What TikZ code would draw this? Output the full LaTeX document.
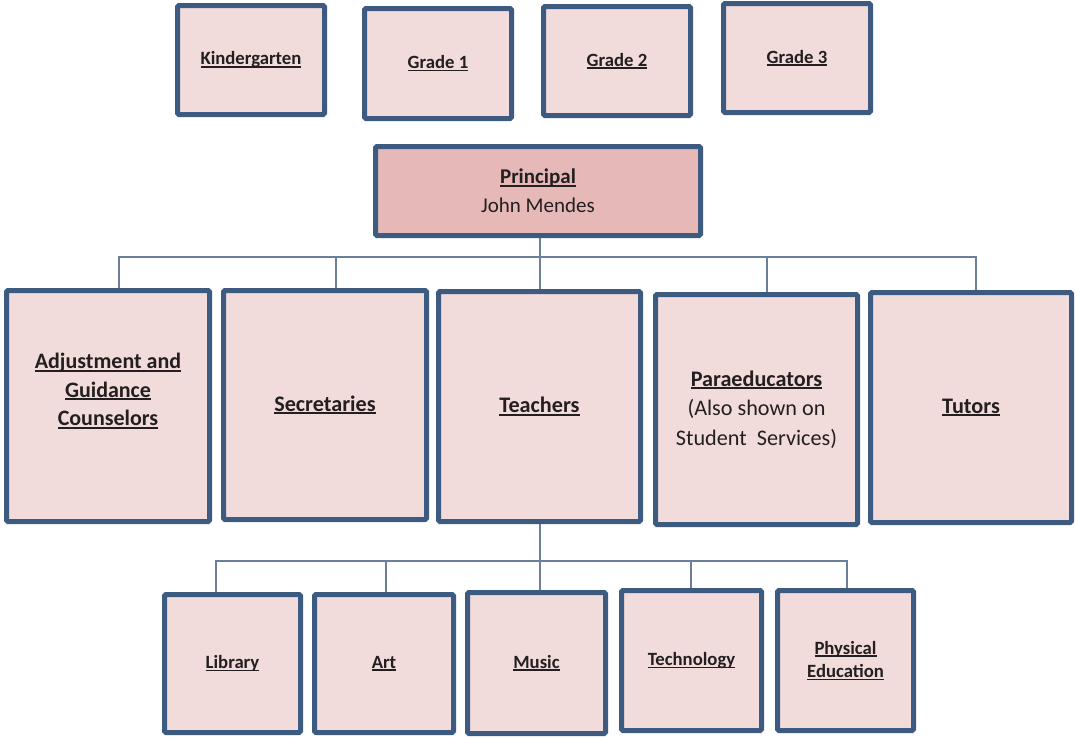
\documentclass[tikz,border=0pt]{standalone}
\usepackage{fontspec}
\setmainfont{Carlito}
\usetikzlibrary{backgrounds}

\definecolor{boxfill}{HTML}{F2DCDB}
\definecolor{headfill}{HTML}{E6B9B8}
\definecolor{boxedge}{HTML}{3D5A80}
\definecolor{wire}{HTML}{6A7F99}
\definecolor{ink}{HTML}{231F20}

% underline drawn just under the baseline, as wide as the word
\newcommand\ulin[1]{\setbox0\hbox{#1}\rlap{\rule[-0.14em]{\wd0}{0.085em}}\box0}

\tikzset{
  unitbox/.style={draw=boxedge, line width=5pt, fill=boxfill, rounded corners=1.5pt,
                  inner sep=0pt, align=center, text=ink},
  smallbox/.style={unitbox, font=\fontsize{18.7}{23.5}\selectfont\bfseries},
  bigbox/.style={unitbox, font=\fontsize{22.2}{29.5}\selectfont\bfseries},
  headbox/.style={unitbox, fill=headfill, font=\fontsize{21}{29}\selectfont},
  conn/.style={draw=wire, line width=1.3pt},
  lbl/.style={align=center, text=ink, inner sep=0pt, font=\fontsize{22}{28.5}\selectfont\bfseries}
}

\begin{document}
\begin{tikzpicture}[x=1pt, y=-1pt]
\useasboundingbox (0,0) rectangle (1075,737);

% grade boxes
\node[smallbox, minimum width=147pt, minimum height=109pt] (kg) at (251,60) {\ulin{Kindergarten}};
\node[smallbox, minimum width=147pt, minimum height=110pt] (g1) at (438,63.5) {\ulin{Grade 1}};
\node[smallbox, minimum width=147pt, minimum height=109pt] (g2) at (617,61) {\ulin{Grade 2}};
\node[smallbox, minimum width=147pt, minimum height=109pt] (g3) at (797,58) {\ulin{Grade 3}};

% principal
\node[headbox, minimum width=325pt, minimum height=89pt] (prin) at (538,191)
  {\textbf{\ulin{Principal}}\\John Mendes};

% staff groups
\node[bigbox, minimum width=203pt, minimum height=231pt] (adj) at (108,406) {};
\node[lbl] (adjtxt) at ([yshift=15pt]adj.center)
  {\ulin{Adjustment and}\\\ulin{Guidance}\\\ulin{Counselors}};
\node[bigbox, minimum width=203pt, minimum height=229pt] (sec) at (325,405) {\ulin{Secretaries}};
\node[bigbox, minimum width=202pt, minimum height=230pt] (tea) at (539.5,406.5) {\ulin{Teachers}};
\node[bigbox, minimum width=202pt, minimum height=230pt] (para) at (756.5,409.5)
  {\ulin{Paraeducators}\\\mdseries(Also shown on\\\mdseries Student~ Services)};
\node[bigbox, minimum width=201pt, minimum height=230pt] (tut) at (971,407.5) {\ulin{Tutors}};

% subject areas
\node[smallbox, minimum width=136pt, minimum height=138pt] (lib) at (232.5,663.5) {\ulin{Library}};
\node[smallbox, minimum width=139pt, minimum height=138pt] (art) at (384,663.5) {\ulin{Art}};
\node[smallbox, minimum width=138pt, minimum height=141pt] (mus) at (536.5,663) {\ulin{Music}};
\node[smallbox, minimum width=140pt, minimum height=140pt] (tech) at (691.5,660.5) {\ulin{Technology}};
\node[smallbox, minimum width=136pt, minimum height=140pt] (pe) at (845.5,660.5) {\ulin{Physical}\\\ulin{Education}};

% reporting lines
\coordinate (hubA) at (540,257);
\coordinate (hubB) at (540,561);
\begin{scope}[on background layer]
  \draw[conn] (prin.south -| hubA) -- (hubA);
  \draw[conn] (hubA) -| (119,0 |- adj.north);
  \draw[conn] (hubA) -| (336,0 |- sec.north);
  \draw[conn] (hubA) -- (hubA |- tea.north);
  \draw[conn] (hubA) -| (767,0 |- para.north);
  \draw[conn] (hubA) -| (976,0 |- tut.north);

  \draw[conn] (tea.south -| hubB) -- (hubB);
  \draw[conn] (hubB) -| (216,0 |- lib.north);
  \draw[conn] (hubB) -| (386,0 |- art.north);
  \draw[conn] (hubB) -- (hubB |- mus.north);
  \draw[conn] (hubB) -| (691,0 |- tech.north);
  \draw[conn] (hubB) -| (847,0 |- pe.north);
\end{scope}
\end{tikzpicture}
\end{document}
